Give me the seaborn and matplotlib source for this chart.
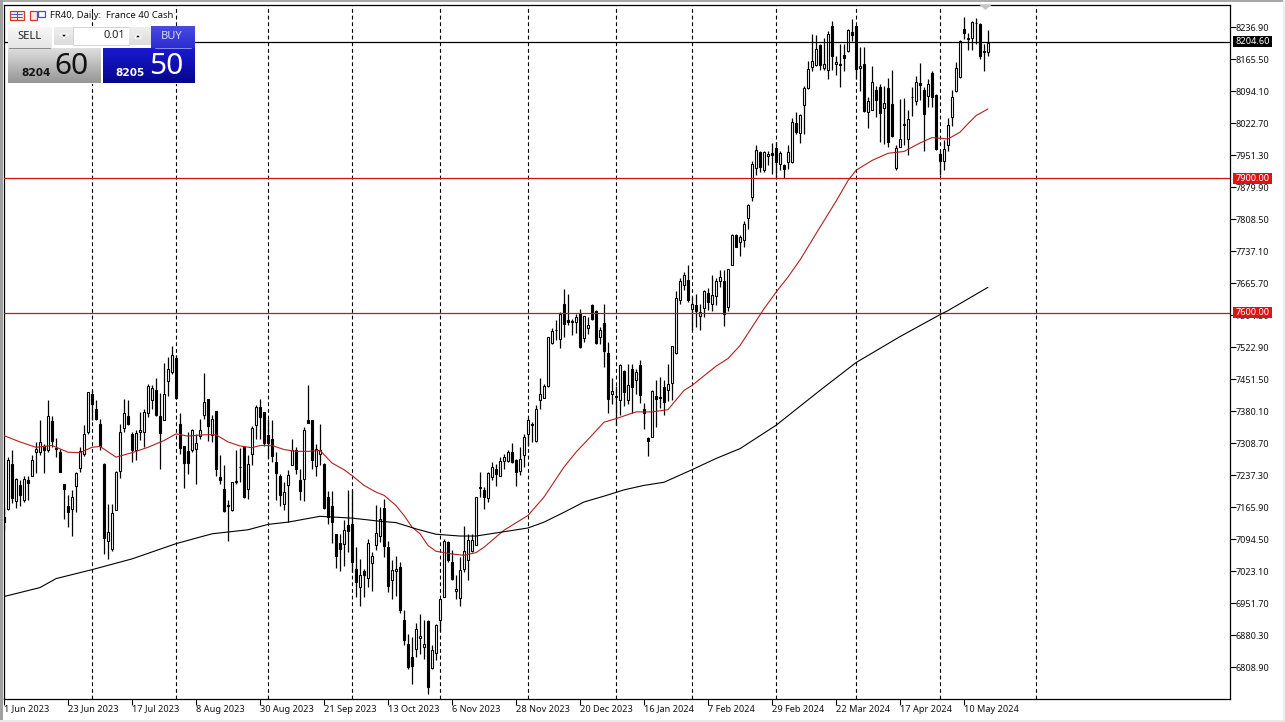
import numpy as np
import pandas as pd
import seaborn as sns
import matplotlib
matplotlib.use("Agg")
import matplotlib.pyplot as plt
from matplotlib.patches import Rectangle, Polygon
from matplotlib.transforms import blended_transform_factory, ScaledTranslation

opens = [7144,7163,7263,7180,7215,7183,7228,7237,7289,7289,
7304,7295,7358,7297,7289,7217,7170,7163,7213,7254,
7284,7334,7419,7386,7353,7263,7092,7072,7161,7247,
7344,7369,7330,7293,7335,7335,7376,7406,7427,7369,
7360,7448,7469,7500,7353,7302,7291,7295,7297,7325,
7371,7407,7327,7382,7234,7206,7169,7159,7225,7255,
7300,7208,7286,7350,7390,7379,7328,7319,7267,7237,
7174,7215,7260,7295,7226,7230,7360,7360,7258,7286,
7263,7190,7168,7106,7086,7085,7126,7129,7029,6988,
7025,7009,7042,7083,7102,7165,7077,7004,7024,7034,
6915,6862,6833,6851,6874,6854,6912,6807,6841,6915,
6966,7089,7045,6979,6964,7028,7048,7068,7083,7210,
7204,7187,7234,7252,7236,7269,7269,7289,7272,7248,
7283,7330,7353,7315,7406,7411,7437,7533,7561,7542,
7619,7585,7579,7580,7600,7544,7566,7617,7604,7546,
7578,7510,7419,7412,7406,7470,7406,7475,7451,7483,
7386,7321,7323,7414,7413,7434,7427,7444,7510,7628,
7663,7674,7608,7617,7594,7611,7645,7619,7637,7672,
7670,7613,7707,7773,7759,7763,7812,7858,7924,7959,
7919,7951,7957,7968,7933,7929,7936,7936,8024,8001,
8064,8102,8148,8152,8198,8146,8142,8240,8156,8156,
8176,8184,8226,8239,8147,8156,8048,8053,8098,8105,
8058,8102,8067,7924,7971,8020,7988,8081,8073,8113,
8098,8083,8135,8085,7955,7939,7975,8037,8094,8126,
8234,8211,8213,8246,8245,8182,8182]

closes = [7133,7272,7187,7230,7193,7230,7220,7271,7297,7312,
7293,7369,7314,7299,7246,7208,7155,7190,7243,7292,
7330,7423,7397,7363,7302,7097,7111,7154,7246,7334,
7377,7353,7295,7332,7338,7379,7436,7433,7371,7332,
7419,7475,7505,7411,7299,7265,7265,7339,7310,7338,
7402,7347,7364,7252,7226,7158,7170,7222,7222,7257,
7189,7262,7344,7391,7367,7309,7309,7280,7243,7193,
7200,7239,7295,7252,7202,7338,7354,7272,7297,7295,
7164,7144,7133,7057,7072,7116,7113,7044,7000,7016,
7016,7087,7057,7109,7139,7080,6990,7027,7029,6938,
6871,6810,6813,6895,6879,6861,6765,6848,6903,6962,
7092,7048,7007,6984,7027,7068,7094,7094,7190,7211,
7190,7243,7256,7241,7269,7278,7289,7267,7245,7274,
7324,7362,7350,7386,7420,7437,7546,7559,7562,7598,
7576,7580,7582,7591,7524,7592,7572,7587,7533,7562,
7515,7408,7425,7414,7483,7423,7440,7434,7468,7416,
7377,7313,7425,7408,7410,7401,7442,7527,7634,7670,
7684,7628,7620,7605,7602,7649,7624,7640,7672,7681,
7598,7698,7774,7748,7769,7799,7840,7931,7964,7925,
7960,7954,7953,7936,7957,7922,7959,8026,8003,8042,
8102,8143,8162,8189,8152,8156,8223,8173,8160,8154,
8168,8232,8219,8143,8151,8050,8073,8116,8075,8046,
8068,7981,7994,7968,7988,8022,8033,8082,8116,8108,
8044,8110,8081,7966,7939,7966,8020,8081,8147,8206,
8224,8212,8250,8247,8174,8183,8203]

highs = [7167,7278,7295,7232,7226,7237,7237,7283,7312,7360,
7308,7405,7369,7321,7297,7219,7193,7204,7245,7300,
7349,7423,7427,7405,7364,7265,7174,7174,7248,7353,
7408,7405,7334,7338,7379,7386,7442,7438,7455,7421,
7488,7501,7527,7505,7376,7304,7334,7341,7330,7364,
7466,7408,7371,7382,7282,7260,7183,7222,7295,7299,
7304,7282,7347,7394,7408,7379,7364,7360,7289,7241,
7222,7250,7319,7301,7252,7345,7438,7362,7308,7353,
7265,7202,7202,7107,7107,7137,7205,7204,7077,7051,
7029,7096,7066,7172,7167,7185,7092,7048,7057,7044,
6938,6884,6877,6909,6929,6914,6915,6858,6905,6962,
7096,7092,7070,7014,7055,7124,7107,7107,7190,7246,
7211,7245,7267,7263,7278,7286,7295,7310,7274,7301,
7329,7366,7356,7395,7455,7442,7547,7566,7585,7602,
7654,7641,7587,7598,7609,7594,7591,7620,7607,7568,
7619,7535,7455,7436,7486,7473,7486,7485,7475,7494,
7399,7324,7427,7451,7457,7451,7486,7527,7648,7678,
7691,7706,7635,7643,7619,7650,7656,7684,7678,7695,
7695,7698,7777,7777,7773,7806,7842,7939,7975,7962,
7962,7962,7979,7981,7962,7931,7974,8035,8048,8044,
8107,8163,8223,8219,8200,8213,8229,8252,8174,8200,
8200,8234,8256,8241,8193,8193,8081,8150,8107,8110,
8107,8124,8142,7974,8078,8080,8053,8104,8128,8158,
8105,8122,8139,8089,7962,7985,8035,8098,8159,8208,
8261,8224,8252,8258,8247,8200,8230]

lows = [7115,7160,7176,7164,7169,7178,7183,7235,7242,7282,
7242,7289,7300,7278,7244,7139,7123,7102,7155,7245,
7280,7330,7360,7360,7293,7062,7051,7068,7159,7232,
7334,7349,7267,7271,7317,7300,7367,7386,7369,7252,
7360,7414,7464,7408,7286,7209,7241,7289,7219,7319,
7364,7315,7312,7237,7219,7155,7092,7158,7219,7222,
7187,7185,7260,7319,7319,7304,7277,7267,7182,7168,
7159,7133,7260,7240,7182,7180,7354,7252,7235,7261,
7163,7129,7086,7031,7025,7036,7066,7022,6966,6946,
6966,6988,6979,7070,7089,7055,6977,6961,6968,6930,
6858,6806,6771,6833,6839,6828,6749,6806,6826,6891,
6966,7044,7005,6962,6946,7022,7003,7066,7081,7189,
7163,7178,7226,7213,7235,7252,7267,7265,7213,7239,
7256,7304,7312,7312,7386,7410,7434,7531,7540,7521,
7546,7573,7550,7555,7521,7535,7553,7585,7530,7531,
7479,7376,7397,7349,7373,7393,7397,7377,7420,7399,
7341,7280,7323,7345,7388,7373,7403,7405,7509,7620,
7650,7624,7561,7568,7561,7591,7607,7604,7617,7657,
7570,7604,7706,7747,7727,7747,7786,7849,7907,7914,
7914,7929,7909,7901,7918,7901,7922,7934,7998,7979,
7999,8100,8139,8150,8141,8141,8122,8141,8130,8104,
8139,8182,8206,8122,8096,8048,8013,8052,8037,7981,
7977,7970,7992,7919,7970,7974,7953,8040,8063,8074,
7961,8059,8059,7964,7907,7919,7962,8018,8093,8124,
8212,8187,8186,8200,8167,8139,8172]

# moving averages at these bars
red_bars = [0,4,8,12,16,19,22,24,28,32,36,40,43,46,50,53,56,59,62,64,67,70,73,76,79,82,85,87,90,93,95,98,
            100,102,104,106,108,110,112,115,118,120,125,131,135,140,143,147,150,153,158,162,166,170,172,178,
            181,184,190,193,196,199,204,208,211,213,217,221,225,229,232,236,239,241,243,246]
red_vals = [7326,7312,7300,7304,7289,7288,7300,7302,7278,7288,7300,7315,7330,7325,7328,7328,7312,7303,7299,7304,7304,7295,7291,7291,7293,7265,7250,7237,7215,7200,7193,7170,
            7148,7122,7107,7081,7068,7065,7062,7059,7065,7077,7115,7148,7189,7256,7289,7327,7356,7364,7379,7379,7384,7427,7438,7481,
            7498,7527,7609,7646,7680,7718,7791,7849,7895,7918,7940,7956,7960,7979,7991,7988,8003,8022,8040,8055]
black_bars = [0,9,13,22,32,43,52,61,66,71,79,87,94,98,103,108,114,118,126,131,135,140,145,150,155,160,165,172,178,184,
              193,204,213,224,234,236,246]
black_vals = [6967,6987,7007,7027,7051,7085,7107,7116,7128,7133,7146,7142,7135,7132,7118,7106,7102,7102,7113,7120,7133,7155,7178,7191,7205,7215,7222,7250,7275,7297,
              7349,7427,7489,7547,7596,7605,7657]

date_labels = ["1 Jun 2023","23 Jun 2023","17 Jul 2023","8 Aug 2023","30 Aug 2023","21 Sep 2023","13 Oct 2023",
               "6 Nov 2023","28 Nov 2023","20 Dec 2023","16 Jan 2024","7 Feb 2024","29 Feb 2024","22 Mar 2024",
               "17 Apr 2024","10 May 2024"]
price_labels = ["8236.90","8165.50","8094.10","8022.70","7951.30","7879.90","7808.50","7737.10","7665.70","7594.30",
                "7522.90","7451.50","7380.10","7308.70","7237.30","7165.90","7094.50","7023.10","6951.70","6880.30","6808.90"]
month_bars = [22,43,66,87,109,131,153,172,193,213,234,258]
level_lines = [7900.0, 7600.0]
last_price = 8204.6

sns.set_theme(style="white")
plt.rcParams['font.family'] = ['Noto Sans', 'DejaVu Sans']

W, H = 1285, 722
fig = plt.figure(figsize=(W/100, H/100), dpi=100, facecolor="white")
L, R, T, B = 4.0, 1230.0, 4.5, 699.0
ax = fig.add_axes([L/W, 1-B/H, (R-L)/W, (B-T)/H])
PX = 2.23125  # price per pixel
Y0 = 27.4     # pixel row of the top tick
ax.set_xlim(0, (R-L)/4)
ax.set_ylim(8236.9-(B-Y0)*PX, 8236.9+(Y0-T)*PX)

df = pd.DataFrame(dict(bar=np.arange(len(opens)), o=opens, h=highs, l=lows, c=closes))
df["top"] = df[["o","c"]].max(axis=1)
df["bot"] = df[["o","c"]].min(axis=1)
df["up"] = df.c >= df.o

for m in month_bars:
    ax.axvline(m, color="black", lw=0.8, ls=(0,(3.5,2.5)), zorder=1)

ax.vlines(df.bar, df.l, df.h, color="black", lw=0.9, zorder=2)
for up, g in df.groupby("up"):
    ax.bar(g.bar, (g.top-g.bot).clip(lower=1.5), bottom=g.bot, width=0.55,
           facecolor="white" if up else "black", edgecolor="black", lw=0.8, zorder=3)

ma_red = pd.DataFrame(dict(bar=red_bars, v=red_vals))
ma_black = pd.DataFrame(dict(bar=black_bars, v=black_vals))
sns.lineplot(data=ma_red, x="bar", y="v", ax=ax, color="#b02020", lw=0.8, zorder=5, estimator=None)
sns.lineplot(data=ma_black, x="bar", y="v", ax=ax, color="black", lw=0.8, zorder=5, estimator=None)

ax.axhline(last_price, color="black", lw=0.9, zorder=4)
for v in level_lines:
    ax.axhline(v, color="#cc1414", lw=0.9, zorder=4)

for s in ["left","right","top","bottom"]:
    ax.spines[s].set_visible(True)
    ax.spines[s].set_color("black")
    ax.spines[s].set_linewidth(0.9)

yt = [8236.9 - 71.4*k for k in range(len(price_labels))]
ax.yaxis.tick_right()
ax.set_yticks(yt, price_labels)
ax.set_xticks(np.arange(len(date_labels))*16, date_labels, ha="left")
ax.tick_params(axis="y", length=4, width=0.8, color="black", pad=0.3, labelsize=6.5, labelcolor="#111111", right=True)
ax.tick_params(axis="x", length=4, width=0.8, color="black", pad=0, labelsize=6.6, labelcolor="#111111", bottom=True)
ax.set_xlabel(""); ax.set_ylabel("")
ax.grid(False)
for lab in ax.get_yticklabels():
    lab.set_transform(lab.get_transform() + ScaledTranslation(0, 0.1/100, fig.dpi_scale_trans))

# right-hand price tags
tr = blended_transform_factory(ax.transAxes, ax.transData)
axw = R-L
def tag(price, color):
    ax.add_patch(Rectangle(((1233-L)/axw, price-5.5*PX), 39/axw, 11*PX, transform=tr, color=color, clip_on=False, zorder=10, lw=0))
    ax.text((1235.5-L)/axw, price, f"{price:.2f}", transform=tr, color="white", fontsize=6.6, va="center", ha="left", zorder=11, clip_on=False)
tag(last_price, "black")
for v in level_lines:
    tag(v, "#e01212")

# terminal chrome, in pixel coordinates
ov = fig.add_axes([0,0,1,1], zorder=20)
ov.set_xlim(0,W); ov.set_ylim(H,0); ov.axis("off"); ov.patch.set_alpha(0)
def rect(x0,y0,x1,y1,c,**k):
    ov.add_patch(Rectangle((x0,y0),x1-x0,y1-y0,facecolor=c,edgecolor=k.pop("ec","none"),lw=k.pop("lw",0),**k))
def grad(x0,y0,x1,y1,c0,c1):
    g = np.linspace(0,1,32)[:,None,None]
    a = np.array(matplotlib.colors.to_rgb(c0)); b = np.array(matplotlib.colors.to_rgb(c1))
    ov.imshow(a*(1-g)+b*g, extent=[x0,x1,y1,y0], aspect="auto", zorder=2)
rect(0,0,W,1.5,"#a8a8a8"); rect(0,0,2.5,H,"#a0a0a0"); rect(1283,0,W,H,"#f0f0f0"); rect(0,719.5,W,H,"#e8e8e8")
ov.add_patch(Polygon([[979,4.5],[992,4.5],[985.5,10]],closed=True,facecolor="#c4c4c4",edgecolor="none"))
# title row
rect(9.5,11,24,20,"#fbe8e4",ec="#d03a2a",lw=0.9)
ov.plot([16.5,16.5],[11,20],color="#3a5ac0",lw=0.7); ov.plot([11,22],[14,14],color="#3a5ac0",lw=0.7); ov.plot([11,22],[17,17],color="#3a5ac0",lw=0.7)
rect(30,11,37,20,"#fbe8e4",ec="#d03a2a",lw=0.9); rect(38,11,45,17,"white",ec="#3a5ac0",lw=0.9)
ov.text(50.5,15.5,"FR40, Daily:  France 40 Cash",fontsize=6.85,va="center",ha="left",color="#111111")
# trade panel
rect(8,26,195,84,"white",zorder=1)
grad(8,27,52,48,"#f6f6f6","#e6e6e6")
ov.plot([9,50],[47.5,47.5],color="#888888",lw=0.7,zorder=3)
ov.text(29,36.5,"SELL",fontsize=8,ha="center",va="center",color="#222222",zorder=4)
grad(54,27,73,45,"#efefef","#dcdcdc"); rect(73,27,129,45,"white",ec="#cccccc",lw=0.6,zorder=2); grad(129,27,151,45,"#efefef","#dcdcdc")
ov.add_patch(Polygon([[60.5,34],[67.5,34],[64,38]],closed=True,facecolor="#111111",zorder=4))
ov.add_patch(Polygon([[134.5,38],[141.5,38],[138,34]],closed=True,facecolor="#111111",zorder=4))
ov.text(125,36,"0.01",fontsize=8,ha="right",va="center",color="#222222",zorder=4)
grad(151,26,195,48,"#4a4ae6","#2c2cd0")
ov.plot([155,191],[47.5,47.5],color="#8a8aee",lw=0.7,zorder=3)
ov.text(172,36.5,"BUY",fontsize=8,ha="center",va="center",color="#d6d6ff",zorder=4)
grad(8,48,101,83,"#dedede","#969696")
grad(103,48,195,83,"#1a1ad0","#05058e")
ov.text(51,73,"8204",fontsize=7.6,fontweight="bold",family="DejaVu Sans",ha="right",va="center",color="#111111",zorder=4)
ov.text(54,67,"60",fontsize=21.5,ha="left",va="center",color="#111111",zorder=4)
ov.text(145,73,"8205",fontsize=7.6,fontweight="bold",family="DejaVu Sans",ha="right",va="center",color="white",zorder=4)
ov.text(149,67,"50",fontsize=21.5,ha="left",va="center",color="white",zorder=4)
ov.set_xlim(0,W); ov.set_ylim(H,0)

fig.savefig("out.png", dpi=100, facecolor="white")
